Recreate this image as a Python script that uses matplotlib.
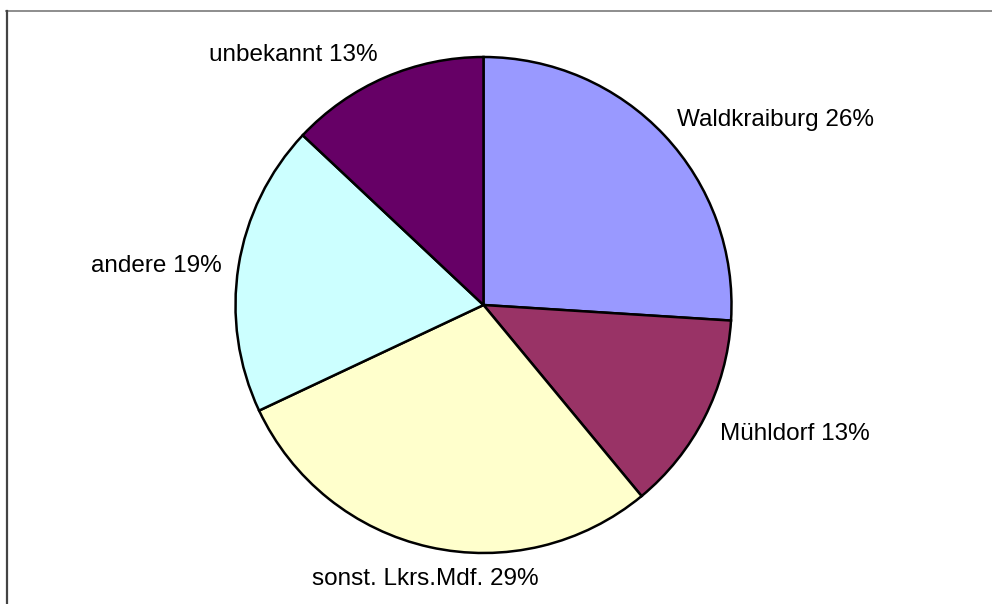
import numpy as np
import matplotlib
matplotlib.use('Agg')
from matplotlib import pyplot as plt
from matplotlib.lines import Line2D

# Data
labels = ['Waldkraiburg', 'Mühldorf', 'sonst. Lkrs.Mdf.', 'andere', 'unbekannt']
shares = [26, 13, 29, 19, 13]
colors = ['#9999FF', '#993366', '#FFFFCC', '#CCFFFF', '#660066']

W, H = 992, 604
fig = plt.figure(figsize=(W / 100., H / 100.), dpi=100)
ax = fig.add_axes([0, 0, 1, 1])

cx, cy, r = 483.5, H - 305, 248
wedges, _ = ax.pie(shares, colors=colors, startangle=90, counterclock=False,
                   center=(cx, cy), radius=r, frame=True,
                   wedgeprops=dict(edgecolor='black', linewidth=1.8))
ax.set_xlim(0, W)
ax.set_ylim(0, H)
ax.axis('off')

# labels outside the arc, aligned away from the pie like Excel does
fig.canvas.draw()
renderer = fig.canvas.get_renderer()
for wdg, lab, s in zip(wedges, labels, shares):
    mid = np.deg2rad((wdg.theta1 + wdg.theta2) / 2.)
    c, sn = np.cos(mid), np.sin(mid)
    px = cx + 1.07 * r * c
    py = cy + 1.07 * r * sn - 4
    t = ax.text(px, py, '%s %d%%' % (lab, s), ha='center', va='center',
                fontsize=17.5, family='Liberation Sans', color='black')
    bb = t.get_window_extent(renderer)
    dx = bb.width / 2. * np.sign(c) if abs(c) > 0.3 else 0.
    t.set_position((px + dx, py + bb.height / 2. * sn))

# outer frame (only top and left edges are visible)
fig.add_artist(Line2D([6 / W, 1], [1 - 11 / H, 1 - 11 / H], color='#7a7a7a', lw=1.2))
fig.add_artist(Line2D([6.5 / W, 6.5 / W], [0, 1 - 11 / H], color='#444444', lw=1.6))

fig.savefig('out.png', dpi=100)
